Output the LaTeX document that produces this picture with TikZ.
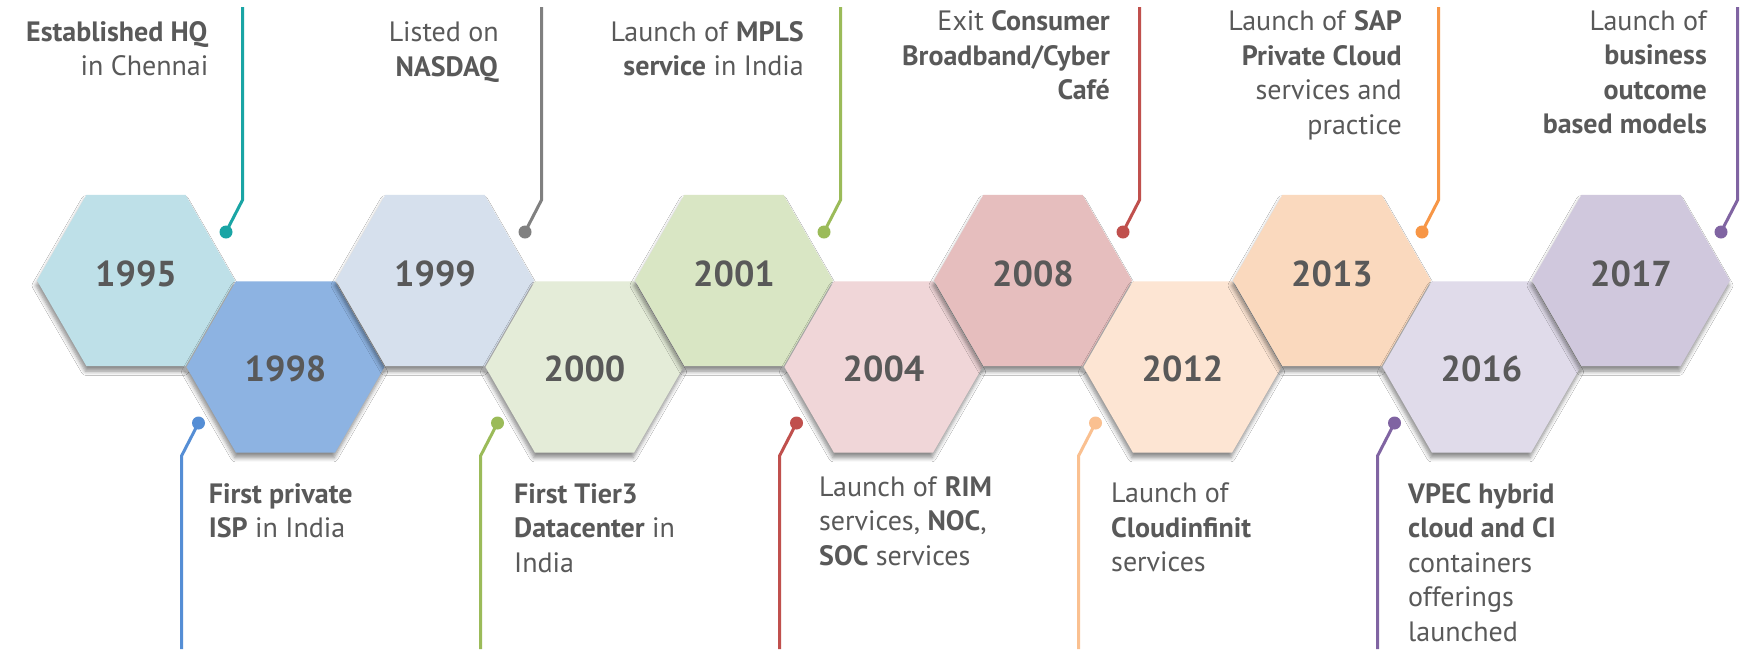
\documentclass[tikz,border=0pt]{standalone}
\usepackage{fontspec}
\setmainfont{PT Sans}
\usetikzlibrary{shapes.geometric,shadows.blur}
\definecolor{tx}{HTML}{595959}
\definecolor{f1995}{HTML}{BEE0E8}
\definecolor{f1998}{HTML}{8DB3E2}
\definecolor{f1999}{HTML}{D6E0ED}
\definecolor{f2000}{HTML}{E4ECD8}
\definecolor{f2001}{HTML}{D9E6C4}
\definecolor{f2004}{HTML}{F0D6D8}
\definecolor{f2008}{HTML}{E6BEBE}
\definecolor{f2012}{HTML}{FDE5D3}
\definecolor{f2013}{HTML}{FAD9BE}
\definecolor{f2016}{HTML}{E0DBEA}
\definecolor{f2017}{HTML}{D0C8DD}
\definecolor{cteal}{HTML}{1AA5A5}
\definecolor{cblue}{HTML}{558ED5}
\definecolor{cgray}{HTML}{808080}
\definecolor{cgreen}{HTML}{9BBB59}
\definecolor{cred}{HTML}{C0504D}
\definecolor{clor}{HTML}{FAC090}
\definecolor{corange}{HTML}{F79646}
\definecolor{cpurple}{HTML}{8064A2}
\begin{document}
\begin{tikzpicture}[x=1pt,y=-1pt,
  hexa/.style={regular polygon, regular polygon sides=6, minimum size=198pt, inner sep=0pt, draw=none,
    blur shadow={shadow xshift=-1pt, shadow yshift=-5pt, shadow blur radius=4pt, shadow blur steps=6, shadow opacity=45}},
  yr/.style={inner sep=0pt, text=tx, font=\bfseries\fontsize{36}{40}\selectfont},
  toptxt/.style={anchor=north east, align=right, inner sep=0pt, text=tx, font=\fontsize{28}{34.5}\selectfont, execute at begin node=\strut},
  bottxt/.style={anchor=north west, align=left, inner sep=0pt, text=tx, font=\fontsize{28}{34.5}\selectfont, execute at begin node=\strut},
  conn/.style={line width=3pt},
  dotn/.style={circle, inner sep=0pt, minimum size=13pt, draw=none}]
\useasboundingbox (0,0) rectangle (1743,649);
\fill[white] (0,0) rectangle (1743,649);

% hexagons
\node[hexa, fill=f1995] (h1995) at (136,280.5) {};
\node[hexa, fill=f1998] (h1998) at (285.5,367) {};
\node[hexa, fill=f1999] (h1999) at (435,280.5) {};
\node[hexa, fill=f2000] (h2000) at (584.5,367) {};
\node[hexa, fill=f2001] (h2001) at (734,280.5) {};
\node[hexa, fill=f2004] (h2004) at (883.5,367) {};
\node[hexa, fill=f2008] (h2008) at (1033,280.5) {};
\node[hexa, fill=f2012] (h2012) at (1182.5,367) {};
\node[hexa, fill=f2013] (h2013) at (1332,280.5) {};
\node[hexa, fill=f2016] (h2016) at (1481.5,367) {};
\node[hexa, fill=f2017] (h2017) at (1631,280.5) {};

% years
\node[yr] (y1995) at (136,274) {1995};
\node[yr] (y1998) at (285.5,369) {1998};
\node[yr] (y1999) at (435,274) {1999};
\node[yr] (y2000) at (584.5,369) {2000};
\node[yr] (y2001) at (734,274) {2001};
\node[yr] (y2004) at (883.5,369) {2004};
\node[yr] (y2008) at (1033,274) {2008};
\node[yr] (y2012) at (1182.5,369) {2012};
\node[yr] (y2013) at (1332,274) {2013};
\node[yr] (y2016) at (1481.5,369) {2016};
\node[yr] (y2017) at (1631,274) {2017};

% top connectors
\coordinate (a1995) at (242.5,7);  \coordinate (b1995) at (242.5,200);
\node[dotn, fill=cteal] (d1995) at (226,232) {};
\draw[conn, cteal] (a1995) -- (b1995) -- (d1995.center);
\coordinate (a1999) at (541.5,7);  \coordinate (b1999) at (541.5,200);
\node[dotn, fill=cgray] (d1999) at (525,232) {};
\draw[conn, cgray] (a1999) -- (b1999) -- (d1999.center);
\coordinate (a2001) at (840.5,7);  \coordinate (b2001) at (840.5,200);
\node[dotn, fill=cgreen] (d2001) at (824,232) {};
\draw[conn, cgreen] (a2001) -- (b2001) -- (d2001.center);
\coordinate (a2008) at (1139.5,7); \coordinate (b2008) at (1139.5,200);
\node[dotn, fill=cred] (d2008) at (1123,232) {};
\draw[conn, cred] (a2008) -- (b2008) -- (d2008.center);
\coordinate (a2013) at (1438.5,7); \coordinate (b2013) at (1438.5,200);
\node[dotn, fill=corange] (d2013) at (1422,232) {};
\draw[conn, corange] (a2013) -- (b2013) -- (d2013.center);
\coordinate (a2017) at (1737.5,7); \coordinate (b2017) at (1737.5,200);
\node[dotn, fill=cpurple] (d2017) at (1721,232) {};
\draw[conn, cpurple] (a2017) -- (b2017) -- (d2017.center);

% bottom connectors
\coordinate (a1998) at (181.5,649);  \coordinate (b1998) at (181.5,456);
\node[dotn, fill=cblue] (d1998) at (198.5,423) {};
\draw[conn, cblue] (a1998) -- (b1998) -- (d1998.center);
\coordinate (a2000) at (480.5,649);  \coordinate (b2000) at (480.5,456);
\node[dotn, fill=cgreen] (d2000) at (497.5,423) {};
\draw[conn, cgreen] (a2000) -- (b2000) -- (d2000.center);
\coordinate (a2004) at (779.5,649);  \coordinate (b2004) at (779.5,456);
\node[dotn, fill=cred] (d2004) at (796.5,423) {};
\draw[conn, cred] (a2004) -- (b2004) -- (d2004.center);
\coordinate (a2012) at (1078.5,649); \coordinate (b2012) at (1078.5,456);
\node[dotn, fill=clor] (d2012) at (1095.5,423) {};
\draw[conn, clor] (a2012) -- (b2012) -- (d2012.center);
\coordinate (a2016) at (1377.5,649); \coordinate (b2016) at (1377.5,456);
\node[dotn, fill=cpurple] (d2016) at (1394.5,423) {};
\draw[conn, cpurple] (a2016) -- (b2016) -- (d2016.center);

% top texts
\node[toptxt] (t1995) at (208.6,21) {\textbf{Established HQ}\\in Chennai};
\node[toptxt] (t1999) at (499,21.5) {Listed on\\\textbf{NASDAQ}};
\node[toptxt] (t2001) at (804,21) {Launch of \textbf{MPLS}\\\textbf{service} in India};
\node[toptxt] (t2008) at (1110,10.5) {Exit \textbf{Consumer}\\\textbf{Broadband/Cyber}\\\textbf{Café}};
\node[toptxt] (t2013) at (1402,10.5) {Launch of \textbf{SAP}\\\textbf{Private Cloud}\\services and\\practice};
\node[toptxt] (t2017) at (1707,10.5) {Launch of\\\textbf{business}\\\textbf{outcome}\\\textbf{based models}};

% bottom texts
\node[bottxt] (t1998) at (208.6,483) {\textbf{First private}\\\textbf{ISP} in India};
\node[bottxt] (t2000) at (514,483) {\textbf{First Tier3}\\\textbf{Datacenter} in\\India};
\node[bottxt] (t2004) at (819,476) {Launch of \textbf{RIM}\\services, \textbf{NOC},\\\textbf{SOC} services};
\node[bottxt] (t2012) at (1111,483) {Launch of\\\textbf{Cloudinfinit}\\services};
\node[bottxt] (t2016) at (1408,483) {\textbf{VPEC hybrid}\\\textbf{cloud and CI}\\containers\\offerings\\launched};
\end{tikzpicture}
\end{document}
